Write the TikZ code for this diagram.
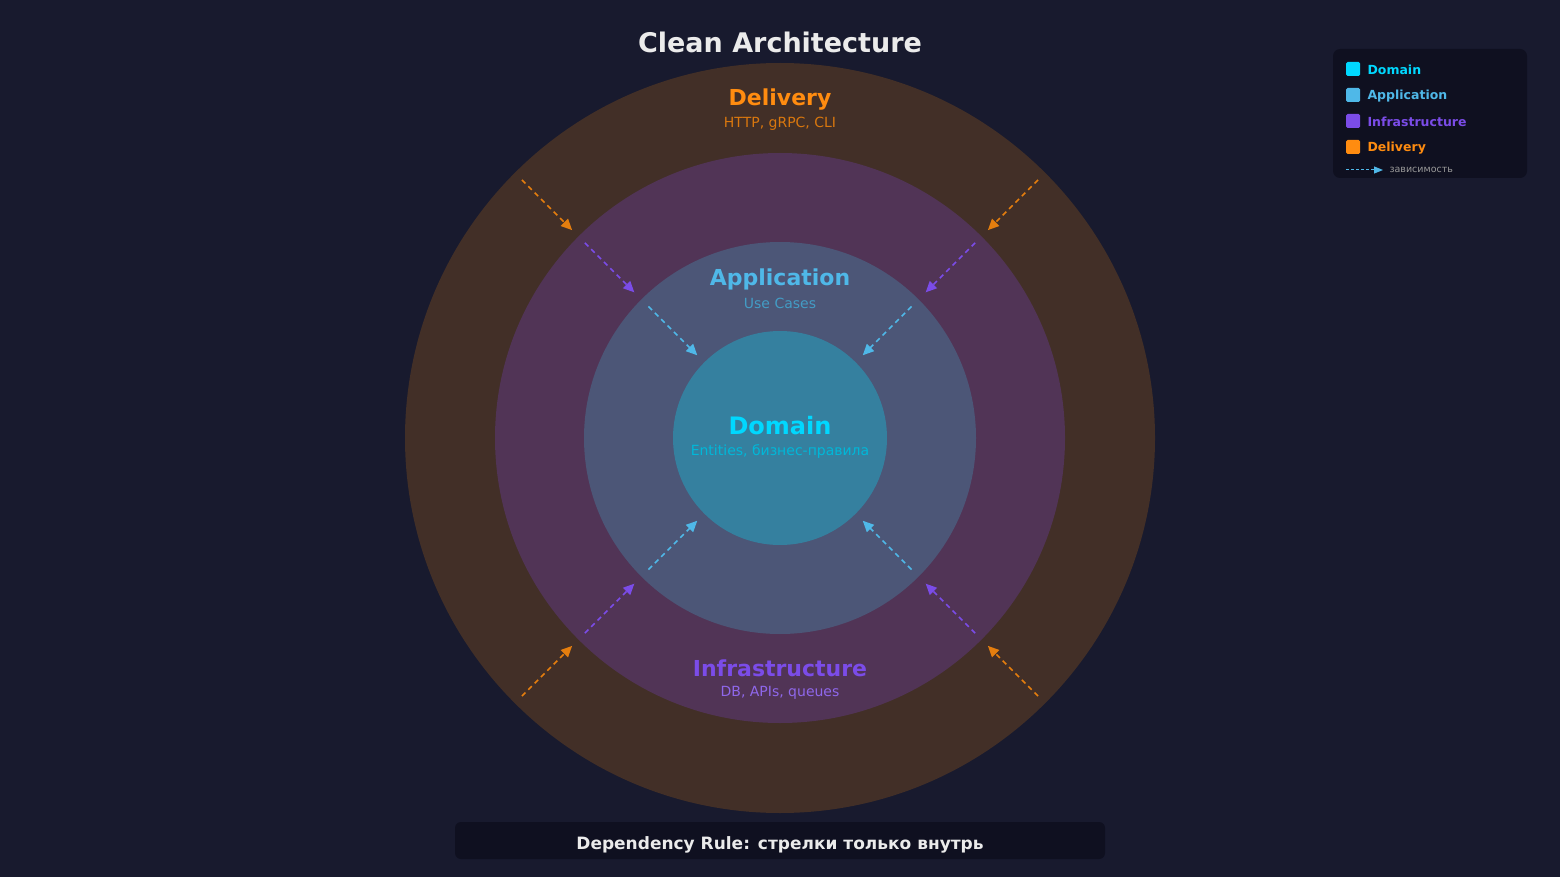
\documentclass[tikz,border=0pt]{standalone}
\usepackage{fontspec}
\setmainfont{DejaVu Sans}
\usetikzlibrary{arrows.meta}
\definecolor{bgcol}{HTML}{181A2E}
\definecolor{delfill}{HTML}{422F27}
\definecolor{inffill}{HTML}{513456}
\definecolor{appfill}{HTML}{4C5677}
\definecolor{domfill}{HTML}{35809F}
\definecolor{domcol}{HTML}{00D8FF}
\definecolor{appcol}{HTML}{4FB8E8}
\definecolor{infcol}{HTML}{7B4CE8}
\definecolor{delcol}{HTML}{FF8C10}
\definecolor{boxcol}{HTML}{0F1020}
\begin{document}
\begin{tikzpicture}[x=1pt, y=-1pt,
        dep/.style = {dashed, line width=1.6pt, dash pattern=on 5pt off 4pt,
            -{Triangle[length=11pt, width=10pt]}}, % dependency arrow
        title/.style = {font=\bfseries\fontsize{22}{26}\selectfont},
        sub/.style = {font=\fontsize{14}{16}\selectfont},
        legtext/.style = {anchor=west, font=\bfseries\fontsize{12.5}{14}\selectfont}
    ]

    \fill[bgcol] (0,0) rectangle (1560,877);

    % layers
    \fill[delfill] (780,438) circle (375);
    \fill[inffill] (780,438) circle (285);
    \fill[appfill] (780,438) circle (196);
    \fill[domfill] (780,438) circle (107);

    \node (ttl) at (780,42) [text=white!92!black,
        font=\bfseries\fontsize{27}{30}\selectfont] {Clean Architecture};

    \node (del) at (780,100) [title, text=delcol] {Delivery};
    \node (delsub) at (780,124) [sub, text=delcol!85!black] {HTTP, gRPC, CLI};
    \node (app) at (780,279) [title, text=appcol] {Application};
    \node (appsub) at (780,303) [sub, text=appcol!85!black] {Use Cases};
    \node (dom) at (780,426) [title, font=\bfseries\fontsize{24}{28}\selectfont,
        text=domcol] {Domain};
    \node (domsub) at (780,452) [sub, text=domcol!85!black] {Entities, бизнес-правила};
    \node (inf) at (780,668) [title, text=infcol] {Infrastructure};
    \node (infsub) at (780,693) [sub, text=infcol!85!white] {DB, APIs, queues};

    % dependency arrows
    \foreach \ang in {45,135,225,315} {
        \coordinate (d1) at ([shift={(\ang:365)}]780,438);
        \coordinate (d2) at ([shift={(\ang:294)}]780,438);
        \coordinate (i1) at ([shift={(\ang:276)}]780,438);
        \coordinate (i2) at ([shift={(\ang:206)}]780,438);
        \coordinate (a1) at ([shift={(\ang:186)}]780,438);
        \coordinate (a2) at ([shift={(\ang:117)}]780,438);
        \draw[dep, delcol!90!black] (d1) -- (d2);
        \draw[dep, infcol] (i1) -- (i2);
        \draw[dep, appcol] (a1) -- (a2);
    }

    % legend
    \fill[boxcol, rounded corners=7pt] (1333,49) rectangle (1527,178);
    \foreach \col/\txt [count=\k from 0] in
        {domcol/Domain, appcol/Application, infcol/Infrastructure, delcol/Delivery} {
        \fill[\col, rounded corners=1.5pt] (1346,62+26*\k) rectangle (1360,76+26*\k);
        \node (leg\k) at (1364,70+26*\k) [legtext, text=\col] {\txt};
    }
    \coordinate (la) at (1346,170);
    \coordinate (lb) at (1383,170);
    \draw[appcol, line width=1pt, dash pattern=on 3pt off 2pt,
        -{Triangle[length=9pt, width=7pt]}] (la) -- (lb);
    \node (legdep) at (1386,170) [anchor=west, text=gray!80!white,
        font=\fontsize{9.5}{11}\selectfont] {зависимость};

    % rule box
    \fill[boxcol, rounded corners=6pt] (455,822) rectangle (1105,859);
    \node (rule) at (780,845) [text=white!92!black,
        font=\bfseries\fontsize{17}{20}\selectfont]
        {Dependency Rule: стрелки только внутрь};
\end{tikzpicture}
\end{document}
